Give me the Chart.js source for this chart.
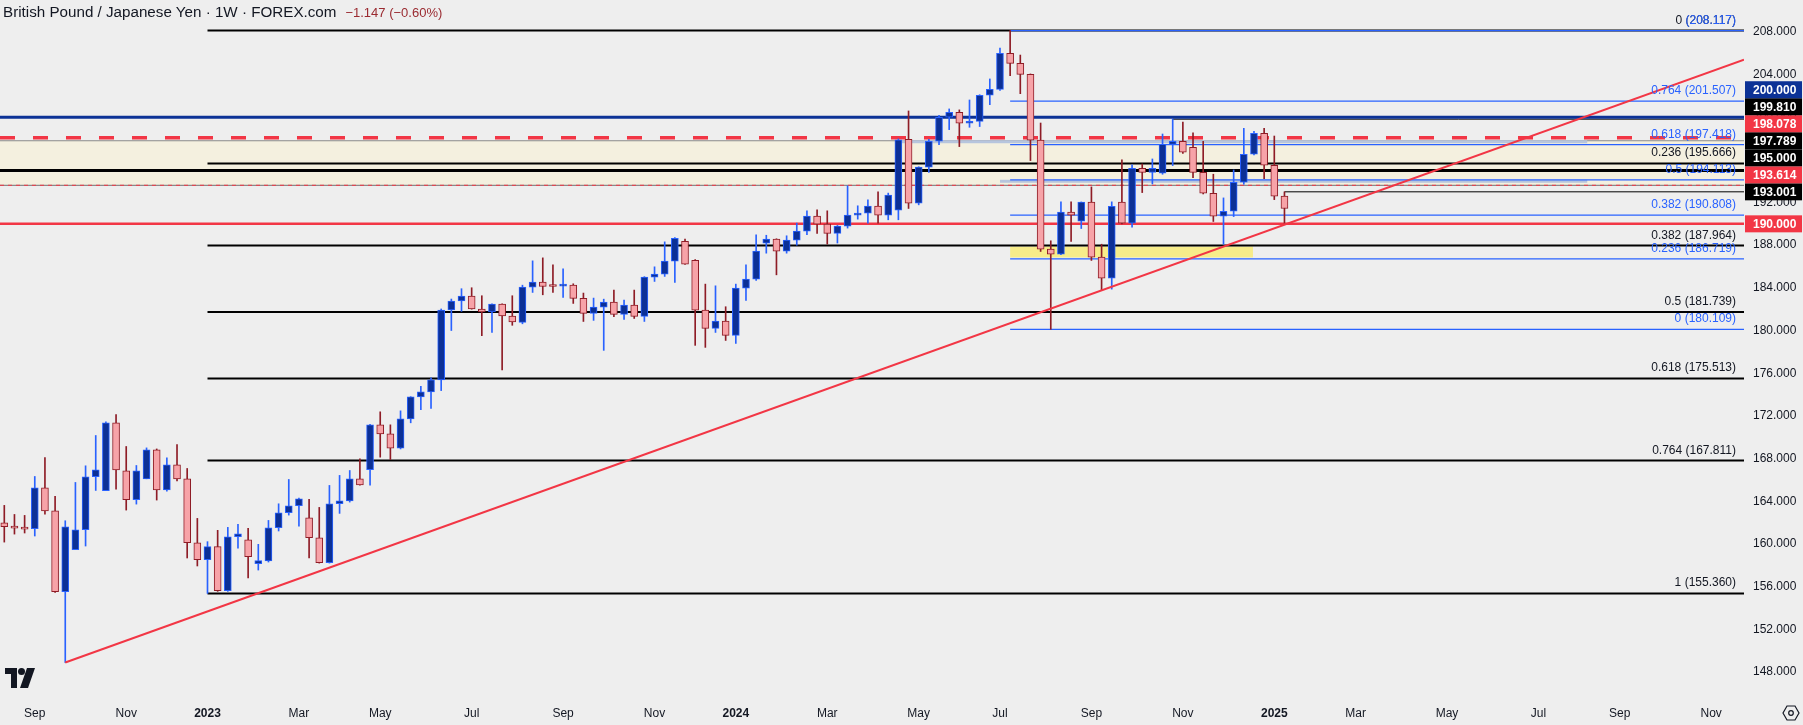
<!DOCTYPE html>
<html>
<head>
<meta charset="utf-8">
<script src="https://cdn.jsdelivr.net/npm/chart.js@4.4.1/dist/chart.umd.min.js"></script>
<style>
  body { margin: 0; background: #eeeeee; }
  #wrap { position: relative; width: 1803px; height: 725px; }
  #title { position: absolute; left: 3px; top: 3px; font: 15.2px "Liberation Sans", Arial, sans-serif; color: #131722; white-space: nowrap; }
  #title span { color: #9a2a30; font-size: 13px; margin-left: 9px; }
  #logo { position: absolute; left: 5px; top: 668px; }
  #gear { position: absolute; left: 1782px; top: 704px; }
</style>
</head>
<body>
<div id="wrap">
  <canvas id="chart" width="1803" height="725"></canvas>
  <div id="title">British Pound / Japanese Yen · 1W · FOREX.com<span>−1.147 (−0.60%)</span></div>
  <svg id="logo" width="32" height="20" viewBox="0 0 32 20">
    <path d="M0 0h12v20H6V6H0z" fill="#131722"/>
    <circle cx="16.5" cy="3.5" r="3.5" fill="#131722"/>
    <path d="M22 0h8l-7 20h-8z" fill="#131722"/>
  </svg>
  <svg id="gear" width="18" height="18" viewBox="0 0 18 18">
    <path d="M5 2h8l4 7-4 7H5L1 9z" fill="none" stroke="#131722" stroke-width="1.2"/>
    <circle cx="9" cy="9" r="2.3" fill="none" stroke="#131722" stroke-width="1.2"/>
  </svg>
</div>
<script>
// weekly candles, first bar = week of 15 Aug 2022
const startWeek = "2022-08-15";
const opens = [
  161.98,161.64,161.55,161.42,165.26,163.11,155.52,159.46,161.33,166.29,
  164.98,171.34,166.85,164.14,166.10,168.82,165.07,167.41,166.10,160.11,
  158.52,159.74,155.62,160.67,160.39,158.15,158.40,161.52,162.92,163.58,
  162.45,160.58,158.24,163.76,164.04,166.10,166.95,171.16,170.32,168.97,
  171.72,173.78,174.25,175.37,181.92,182.77,183.23,182.02,181.74,182.48,
  181.36,180.76,184.07,184.54,184.19,184.16,184.25,183.01,181.60,182.20,
  182.66,181.51,182.38,181.32,185.00,185.28,186.50,188.37,186.59,181.91,
  180.20,180.88,179.54,183.97,184.82,188.19,188.56,187.44,188.47,189.32,
  190.72,189.97,189.10,189.79,190.82,191.00,191.66,190.82,191.28,197.93,
  191.94,195.31,197.74,199.99,200.46,199.43,199.61,202.05,202.61,205.98,
  205.04,204.01,197.84,187.63,187.16,191.09,190.25,192.03,186.88,184.91,
  192.03,190.06,195.21,194.83,194.74,197.45,197.73,197.17,194.83,192.87,
  190.71,191.18,193.90,196.52,198.48,195.49,192.59
];
const highs = [
  163.61,162.76,162.67,166.32,168.10,164.45,162.17,165.76,167.32,170.16,
  171.44,172.12,169.13,167.35,169.00,168.90,168.07,169.32,167.07,162.39,
  160.21,161.27,161.55,161.83,161.45,159.96,162.20,163.76,166.04,164.30,
  164.17,163.42,165.48,166.42,166.88,167.98,171.20,172.38,171.16,172.47,
  173.80,174.78,175.56,182.02,182.95,183.92,184.01,183.26,182.50,182.50,
  183.26,184.25,186.53,186.81,186.16,185.78,184.38,183.51,183.04,182.94,
  183.79,182.85,183.79,185.05,185.97,188.31,188.70,188.56,186.65,184.35,
  184.19,182.23,184.35,186.16,188.97,188.93,188.60,188.88,190.07,191.22,
  191.32,191.22,189.85,193.56,191.69,192.25,193.00,192.88,197.96,200.58,
  195.35,197.93,200.18,200.77,200.68,201.61,202.10,203.58,206.48,208.117,
  205.82,204.05,199.45,188.41,192.06,192.06,192.05,193.46,188.09,192.06,
  195.99,195.52,195.61,196.08,198.42,199.81,199.54,198.52,197.73,194.65,
  192.43,195.05,198.95,198.67,198.95,198.23,193.00
];
const lows = [
  160.17,160.92,161.02,160.74,162.79,155.45,148.88,159.46,159.80,165.01,
  164.98,165.13,163.17,163.73,166.10,164.11,164.95,165.91,158.68,157.93,
  155.36,155.55,155.55,159.61,156.80,157.55,158.30,161.21,162.70,161.67,
  158.68,158.20,158.20,162.86,163.92,165.50,165.51,168.13,167.91,168.90,
  171.35,172.59,172.69,174.37,180.00,181.80,182.00,179.52,179.83,176.30,
  180.49,180.63,183.57,183.35,183.57,183.10,182.54,180.85,180.95,178.14,
  181.29,181.04,181.13,180.85,184.60,185.07,184.50,186.20,178.61,178.42,
  179.82,179.07,178.79,182.82,184.69,187.25,185.22,187.25,188.00,188.98,
  189.10,188.10,188.20,189.60,190.44,190.07,190.07,190.38,190.38,191.44,
  191.78,194.81,197.43,198.83,197.24,199.05,199.12,201.17,202.50,203.89,
  202.20,195.93,187.41,180.109,187.10,188.34,189.56,186.57,183.79,183.88,
  190.00,189.69,192.93,193.74,194.65,195.46,196.61,194.33,192.80,190.22,
  188.09,190.68,193.71,196.45,194.24,192.27,190.06
];
const closes = [
  161.61,161.48,161.39,165.26,163.08,155.52,161.61,161.33,166.29,166.94,
  171.34,166.94,164.14,166.85,168.82,165.07,167.41,166.10,160.11,158.52,
  159.74,155.62,160.67,160.95,158.80,158.43,161.50,162.92,163.58,164.23,
  160.58,158.24,163.76,164.04,166.10,165.54,171.16,170.32,168.97,171.72,
  173.78,174.25,175.37,181.92,182.77,183.23,182.02,181.74,182.48,181.36,
  180.80,184.07,184.54,184.13,184.13,184.25,183.01,181.60,182.20,182.66,
  181.51,182.38,181.32,185.00,185.28,186.50,188.65,186.22,181.91,180.20,
  180.88,179.54,183.97,184.82,187.44,188.56,187.44,188.47,189.32,190.72,
  189.97,189.10,189.79,190.82,191.00,191.66,190.82,192.69,197.87,191.94,
  195.31,197.74,199.99,200.46,199.43,199.61,202.05,202.61,205.98,205.04,
  204.01,197.84,187.63,187.16,191.09,190.81,192.03,186.88,184.91,191.65,
  190.06,195.21,194.83,195.21,197.45,197.73,196.71,194.83,192.87,190.71,
  191.18,193.90,196.52,198.48,195.49,192.59,191.44
];

// time axis labels (first weekly bar of each month)
const monthTicks = ["2022-09","2022-11","2023-01","2023-03","2023-05","2023-07","2023-09","2023-11",
  "2024-01","2024-03","2024-05","2024-07","2024-09","2024-11","2025-01","2025-03","2025-05","2025-07","2025-09","2025-11"];
const monthLabels = ["Sep","Nov","2023","Mar","May","Jul","Sep","Nov","2024","Mar","May","Jul","Sep","Nov","2025","Mar","May","Jul","Sep","Nov"];
const priceTicks = [148,152,156,160,164,168,172,176,180,184,188,192,196,200,204,208];

// drawings
const blackFibRatios = ["0","0.236","0.382","0.5","0.618","0.764","1"];
const blackFibPrices = [208.117,195.666,187.964,181.739,175.513,167.811,155.36];
const blueFibRatios = ["1","0.764","0.618","0.5","0.382","0.236","0"];
const blueFibPrices = [208.117,201.507,197.418,194.113,190.808,186.719,180.109];
const blackFibFrom = 20, blueFibFrom = 99;
const zoneTop = 197.789, zoneBottom = 193.614;
const yellowZone = [99, 122.9, 187.87, 186.85]; // from bar, to bar, top, bottom
const blueBand = [[88.2, 155.8, 197.7], [98, 155.8, 194.0]];
const trendX = [6, 171.23];
const trendY = [148.88, 205.39];
const tagPrices = [200, 199.81, 198.078, 197.789, 195, 193.614, 193.001, 190];
const tagColors = ["#0c3296","#000000","#f23645","#000000","#000000","#f23645","#000000","#f23645"];

const xMin = -0.423, xMax = 171.23;
const yMin = 145.65, yMax = 210.98;

const t0 = Date.parse(startWeek + "T00:00:00Z");
const tickIdx = monthTicks.map(m => {
  const d = new Date(m + "-01T00:00:00Z");
  while (d.getUTCDay() !== 1) d.setUTCDate(d.getUTCDate() + 1);
  return (d - t0) / (7 * 864e5);
});

const upBody = "#0c3096", upLine = "#2962ff", dnBody = "#f7a3a8", dnLine = "#8e1c26";
const isUp = closes.map((c, i) => c >= opens[i]);

function hline(v, from, color, width, dash, order) {
  return {
    type: "line",
    data: [{ x: from, y: v }, { x: xMax, y: v }],
    borderColor: color, borderWidth: width, borderDash: dash || [],
    pointRadius: 0, fill: false, order: order
  };
}

const datasets = [
  {
    type: "bar",
    data: opens.map((o, i) => ({ x: i, y: [o, closes[i]] })),
    backgroundColor: isUp.map(u => u ? upBody : dnBody),
    borderColor: isUp.map(u => u ? upLine : dnLine),
    borderWidth: 1, borderSkipped: false, barThickness: 7, minBarLength: 2,
    grouped: false, order: 1
  },
  {
    type: "bar",
    data: lows.map((l, i) => ({ x: i, y: [l, highs[i]] })),
    backgroundColor: isUp.map(u => u ? upLine : dnLine),
    borderWidth: 0, barThickness: 1, grouped: false, order: 2
  },
  {
    type: "line",
    data: trendX.map((x, i) => ({ x: x, y: trendY[i] })),
    borderColor: "#f23645", borderWidth: 2, pointRadius: 0, fill: false, order: 0
  }
];
blueFibPrices.forEach(p => datasets.push(hline(p, blueFibFrom, "#2962ff", 1.2, null, 3)));
datasets.push(hline(200, xMin, "#0c3296", 3, null, 4));
datasets.push(hline(198.078, xMin, "#f23645", 3.5, [15, 18], 4));
datasets.push(hline(195, xMin, "#000000", 3, null, 4));
datasets.push(hline(190, xMin, "#f23645", 2.5, null, 4));
datasets.push(hline(zoneBottom, xMin, "#f23645", 1, [4, 4], 4));
datasets.push(hline(199.81, 115, "#000000", 1, null, 4));
datasets.push(hline(193.001, 126, "#000000", 1, null, 4));
blackFibPrices.forEach(p => datasets.push(hline(p, blackFibFrom, "#000000", 2, null, 5)));
blueBand.forEach(b => datasets.push({
  type: "line", data: [{ x: b[0], y: b[2] }, { x: b[1], y: b[2] }],
  borderColor: "#b7c5dd", borderWidth: 3, pointRadius: 0, fill: false, order: 6
}));

const zones = {
  id: "zones",
  beforeDatasetsDraw(chart) {
    const { ctx, chartArea: a, scales: { x, y } } = chart;
    ctx.save();
    ctx.beginPath(); ctx.rect(a.left, a.top, a.right - a.left, a.bottom - a.top); ctx.clip();
    const t = y.getPixelForValue(zoneTop), b = y.getPixelForValue(zoneBottom);
    ctx.fillStyle = "#f4f0df";
    ctx.fillRect(a.left, t, a.right - a.left, b - t);
    ctx.strokeStyle = "#8a8a8a"; ctx.lineWidth = 1.2;
    ctx.beginPath(); ctx.moveTo(a.left, t); ctx.lineTo(a.right, t);
    ctx.moveTo(a.left, b); ctx.lineTo(a.right, b); ctx.stroke();
    const x0 = x.getPixelForValue(yellowZone[0]), x1 = x.getPixelForValue(yellowZone[1]);
    const y0 = y.getPixelForValue(yellowZone[2]), y1 = y.getPixelForValue(yellowZone[3]);
    ctx.fillStyle = "#f7ec8a";
    ctx.fillRect(x0, y0, x1 - x0, y1 - y0);
    ctx.restore();
  },
  afterDatasetsDraw(chart) {
    const { ctx, chartArea: a, scales: { y } } = chart;
    ctx.save();
    ctx.font = '12px "Liberation Sans", Arial, sans-serif';
    ctx.textAlign = "right"; ctx.textBaseline = "alphabetic";
    const xr = a.right - 8;
    ctx.fillStyle = "#131722";
    blackFibPrices.forEach((p, i) => ctx.fillText(blackFibRatios[i] + " (" + p.toFixed(3) + ")", xr, y.getPixelForValue(p) - 7));
    ctx.fillStyle = "#2962ff";
    blueFibPrices.forEach((p, i) => {
      if (i === 0) return;
      ctx.fillText(blueFibRatios[i] + " (" + p.toFixed(3) + ")", xr, y.getPixelForValue(p) - 7);
    });
    ctx.fillText("(" + blueFibPrices[0].toFixed(3) + ")", xr, y.getPixelForValue(blueFibPrices[0]) - 7);
    ctx.restore();
  },
  afterDraw(chart) {
    const { ctx, chartArea: a, scales: { y } } = chart;
    const h = 17;
    const tags = tagPrices.map((v, i) => ({ v: v, c: tagColors[i], y: y.getPixelForValue(v) }))
      .sort((p, q) => p.v - q.v);
    let prev = Infinity;
    tags.forEach(t => { t.y = Math.min(t.y, prev - h); prev = t.y; });
    ctx.save();
    ctx.font = 'bold 12px "Liberation Sans", Arial, sans-serif';
    ctx.textBaseline = "middle"; ctx.textAlign = "left";
    tags.forEach(t => {
      ctx.fillStyle = t.c;
      ctx.fillRect(a.right + 1, t.y - h / 2, 57, h);
      ctx.fillStyle = "#ffffff";
      ctx.fillText(t.v.toFixed(3), a.right + 9, t.y + 0.5);
    });
    ctx.restore();
  }
};

Chart.defaults.font.family = '"Liberation Sans", Arial, sans-serif';
Chart.defaults.font.size = 12;
Chart.defaults.color = "#131722";

new Chart(document.getElementById("chart"), {
  type: "bar",
  data: { datasets: datasets },
  plugins: [zones],
  options: {
    responsive: false,
    animation: false,
    layout: { padding: 0, autoPadding: false },
    plugins: { legend: { display: false }, tooltip: { enabled: false } },
    scales: {
      x: {
        type: "linear", min: xMin, max: xMax, offset: false,
        grid: { display: false, drawTicks: false }, border: { display: false },
        afterBuildTicks: s => { s.ticks = tickIdx.map(v => ({ value: v })); },
        afterFit: s => { s.height = 28; s.paddingLeft = 0; s.paddingRight = 0; },
        ticks: {
          autoSkip: false, maxRotation: 0, padding: 9,
          callback: (v, i) => monthLabels[i],
          font: c => ({ size: 12, weight: /^\d{4}$/.test(monthLabels[c.index] || "") ? "bold" : "normal" })
        }
      },
      y: {
        position: "right", min: yMin, max: yMax,
        grid: { display: false, drawTicks: false }, border: { display: false },
        afterBuildTicks: s => { s.ticks = priceTicks.map(v => ({ value: v })); },
        afterFit: s => { s.width = 59; s.paddingTop = 0; s.paddingBottom = 0; },
        ticks: { padding: 9, callback: v => v.toFixed(3) }
      }
    }
  }
});
</script>
</body>
</html>
